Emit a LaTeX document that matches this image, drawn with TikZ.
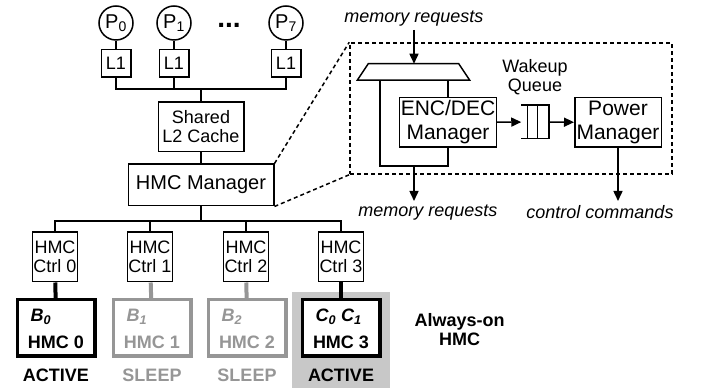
\documentclass[tikz,border=0pt]{standalone}
\usepackage{fontspec}
\setmainfont{Liberation Sans}
\usetikzlibrary{shapes.geometric, arrows.meta, positioning}

\definecolor{sleepgray}{RGB}{150,150,150}
\definecolor{alwaysbg}{RGB}{200,200,200}
\newcommand{\figfont}{\fontsize{18}{19}\selectfont}

\begin{document}
\begin{tikzpicture}[
        x=1pt, y=1pt,
        font=\figfont,
        line width=1.5pt,
        box/.style={draw, rectangle, inner sep=1pt, align=center},
        bigbox/.style={box, font=\fontsize{21}{24}\selectfont},
        proc/.style={draw, circle, minimum size=34pt, inner sep=0pt, font=\fontsize{20}{20}\selectfont},
        hmc/.style={draw, fill=white, rectangle, line width=3.5pt, minimum width=77.5pt, minimum height=56.5pt},
        bold/.style={font=\figfont\bfseries},
        banklbl/.style={font=\figfont\bfseries\itshape, anchor=west},
        req/.style={font=\figfont\itshape},
        link/.style={line width=4pt},
        arr/.style={-{Triangle[length=10pt, width=9pt]}},
        zoomline/.style={dash pattern=on 4pt off 3pt},
        node distance=0pt
    ]
        \useasboundingbox (0,0) rectangle (704,388);
        \fill[alwaysbg] (292,0) rectangle (390,96);

        % cores and private caches
        \node[proc] (p0) at (116,365) {P\textsubscript{0}};
        \node[proc] (p1) at (174,365) {P\textsubscript{1}};
        \node[proc] (p7) at (286,365) {P\textsubscript{7}};
        \node[font=\fontsize{28}{28}\selectfont\bfseries] (dots) at (229,363) {...};
        \node[box, minimum width=29.5pt, minimum height=27.5pt, below=8pt of p0] (l1a) {L1};
        \node[box, minimum width=29.5pt, minimum height=27.5pt, below=8pt of p1] (l1b) {L1};
        \node[box, minimum width=29.5pt, minimum height=27.5pt, below=8pt of p7] (l1c) {L1};
        \draw (p0) -- (l1a);
        \draw (p1) -- (l1b);
        \draw (p7) -- (l1c);

        \coordinate (bus1) at (201,299);
        \node[box, minimum width=85.5pt, minimum height=49.5pt] (l2) at (201,261) {Shared\\L2 Cache};
        \node[box, font=\fontsize{20}{22}\selectfont, minimum width=145.5pt, minimum height=41.5pt] (hmcm) at (201,203) {HMC Manager};
        \draw (l1a.south) |- (bus1) -| (l1c.south);
        \draw (l1b.south) -- (l1b.south |- bus1);
        \draw (bus1) -- (l2);
        \draw (l2) -- (hmcm);

        % controllers and cubes
        \coordinate (bus2) at (201,167);
        \foreach \i/\x in {0/55,1/150,2/246,3/341}
            \node[box, minimum width=44pt, minimum height=49.5pt] (ctrl\i) at (\x,131) {HMC\\Ctrl \i};
        \draw (ctrl0.north) |- (bus2) -| (ctrl3.north);
        \draw (ctrl1.north) -- (ctrl1.north |- bus2);
        \draw (ctrl2.north) -- (ctrl2.north |- bus2);
        \draw (hmcm) -- (bus2);

        \node[hmc] (hmc0) at (56,60) {};
        \node[hmc, draw=sleepgray] (hmc1) at (152,60) {};
        \node[hmc, draw=sleepgray] (hmc2) at (247,60) {};
        \node[hmc] (hmc3) at (341,60) {};
        \draw[link] (ctrl0) -- (hmc0);
        \draw[link, sleepgray] (ctrl1) -- (hmc1);
        \draw[link, sleepgray] (ctrl2) -- (hmc2);
        \draw[link] (ctrl3) -- (hmc3);

        \node[banklbl] (bank0) at ([xshift=11pt, yshift=11pt]hmc0.west) {B\textsubscript{0}};
        \node[banklbl, sleepgray] (bank1) at ([xshift=11pt, yshift=11pt]hmc1.west) {B\textsubscript{1}};
        \node[banklbl, sleepgray] (bank2) at ([xshift=11pt, yshift=11pt]hmc2.west) {B\textsubscript{2}};
        \node[banklbl] (bank3) at ([xshift=11pt, yshift=11pt]hmc3.west) {C\textsubscript{0} C\textsubscript{1}};
        \node[bold] (name0) at ([yshift=-14pt]hmc0.center) {HMC 0};
        \node[bold, sleepgray] (name1) at ([yshift=-14pt]hmc1.center) {HMC 1};
        \node[bold, sleepgray] (name2) at ([yshift=-14pt]hmc2.center) {HMC 2};
        \node[bold] (name3) at ([yshift=-14pt]hmc3.center) {HMC 3};
        \node[bold, below=7pt of hmc0] (st0) {ACTIVE};
        \node[bold, sleepgray, below=7pt of hmc1] (st1) {SLEEP};
        \node[bold, sleepgray, below=7pt of hmc2] (st2) {SLEEP};
        \node[bold, below=7pt of hmc3] (st3) {ACTIVE};
        \node[bold, align=center, right=29pt of hmc3, yshift=-2pt] (aon) {Always-on\\HMC};

        % zoomed view of the HMC manager
        \node[draw, zoomline, minimum width=322pt, minimum height=131pt] (zoom) at (511,279.5) {};
        \draw[zoomline] (hmcm.north east) -- (zoom.north west);
        \draw[zoomline] (hmcm.south east) -- (zoom.south west);

        \node[minimum width=111pt, minimum height=15pt, inner sep=0pt] (mux) at (413.5,316) {};
        \draw (mux.south west) -- ([xshift=11pt]mux.north west) -- ([xshift=-11pt]mux.north east) -- (mux.south east) -- cycle;
        \node[req, anchor=south] (reqin) at (414,358) {memory requests};
        \node[bigbox, minimum width=94.5pt, minimum height=49.5pt] (encdec) at (448,265.5) {ENC/DEC\\Manager};
        \node[minimum width=26pt, minimum height=32pt, inner sep=0pt] (wq) at (535,266) {};
        \node[align=center, above=6pt of wq] (wqlabel) {Wakeup\\Queue};
        \node[bigbox, minimum width=86.5pt, minimum height=49.5pt] (pm) at (618,265.5) {Power\\Manager};
        \node[req, anchor=north] (reqout) at (428,187) {memory requests};
        \node[req, anchor=north] (cmdout) at (600,187) {control commands};

        \draw (wq.north west) -- (wq.north east) -- (wq.south east) -- (wq.south west);
        \draw ([xshift=6pt]wq.north west) -- ([xshift=6pt]wq.south west);
        \draw ([xshift=16pt]wq.north west) -- ([xshift=16pt]wq.south west);

        \coordinate (loop) at (380,222);
        \coordinate (reqtap) at (414,222);
        \draw[arr] (reqin.south) -- (reqin.south |- mux.north);
        \draw (loop |- mux.south) -- (loop) -| (encdec.south);
        \draw (mux.south -| encdec.north) -- (encdec.north);
        \draw[arr] (reqtap) -- (reqtap |- reqout.north);
        \draw[arr] (encdec) -- (wq);
        \draw[arr] (wq) -- (pm);
        \draw[arr] (pm.south) -- (pm.south |- cmdout.north);
    \end{tikzpicture}
\end{document}
